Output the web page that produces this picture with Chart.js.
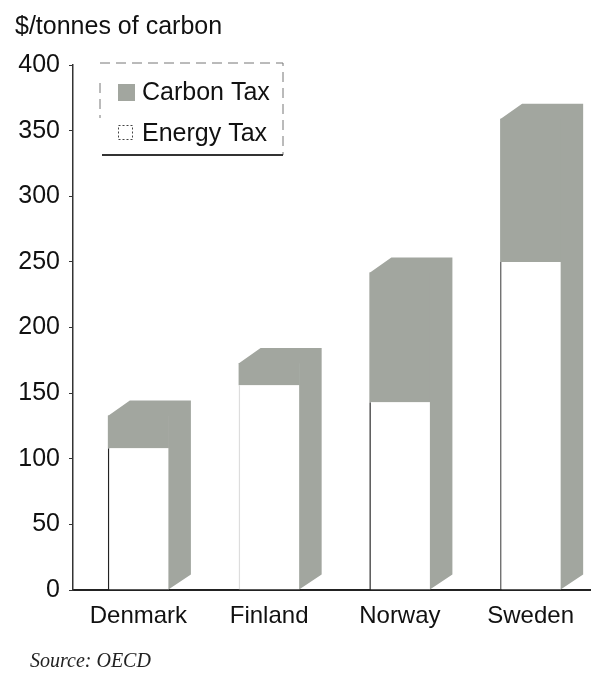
<!DOCTYPE html>
<html>
<head>
<meta charset="utf-8">
<script src="https://cdn.jsdelivr.net/npm/chart.js@4.4.0/dist/chart.umd.min.js"></script>
<style>
  html, body { margin: 0; padding: 0; background: #fff; overflow: hidden; }
  #wrap { width: 600px; height: 683px; }
</style>
</head>
<body>
<div id="wrap"><canvas id="chart_1"></canvas></div>
<script>
const countries = ["Denmark", "Finland", "Norway", "Sweden"];
const energyTax = [108, 156, 143, 250];
const carbonTax = [25, 17, 99, 109];
const yTicks = [0, 50, 100, 150, 200, 250, 300, 350, 400];

const GREY = "#a2a69f";
const SANS = "'Liberation Sans', Arial, sans-serif";

// side + top faces of the pseudo-3D columns, plus the legend box and source line
const extras = {
  id: "extras",
  afterDatasetsDraw(chart) {
    const ctx = chart.ctx;
    const base = chart.getDatasetMeta(0).data;
    const tops = chart.getDatasetMeta(1).data;
    const dx = 22, dy = 15;
    ctx.save();
    ctx.fillStyle = GREY;
    tops.forEach(function (bar, i) {
      const w = bar.width;
      const L = bar.x - w / 2;
      const R = bar.x + w / 2;
      const yT = bar.y;
      const yB = base[i].base;
      ctx.beginPath();
      ctx.moveTo(L, yT + 0.5);
      ctx.lineTo(L + dx, yT - dy);
      ctx.lineTo(R + dx, yT - dy);
      ctx.lineTo(R + dx, yB - dy);
      ctx.lineTo(R - 0.5, yB);
      ctx.lineTo(R - 0.5, yT + 0.5);
      ctx.closePath();
      ctx.fill();
    });
    ctx.restore();
  },
  afterDraw(chart) {
    const ctx = chart.ctx;
    const area = chart.chartArea;
    const lx = area.left + 27;
    const ly = area.top - 2;
    const lw = 183, lh = 92;
    ctx.save();
    // legend frame
    ctx.strokeStyle = "#777";
    ctx.lineWidth = 1;
    ctx.setLineDash([10, 6]);
    ctx.beginPath();
    ctx.moveTo(lx, ly);
    ctx.lineTo(lx + lw, ly);
    ctx.lineTo(lx + lw, ly + lh);
    ctx.moveTo(lx, ly + 20);
    ctx.lineTo(lx, ly + 55);
    ctx.stroke();
    ctx.setLineDash([]);
    ctx.strokeStyle = "#333";
    ctx.lineWidth = 2;
    ctx.beginPath();
    ctx.moveTo(lx + 2, ly + lh);
    ctx.lineTo(lx + lw, ly + lh);
    ctx.stroke();

    const ds = chart.data.datasets;
    ctx.font = "25px " + SANS;
    ctx.textBaseline = "middle";
    // Carbon Tax
    ctx.fillStyle = ds[1].backgroundColor;
    ctx.fillRect(lx + 18, ly + 21, 17, 17);
    ctx.fillStyle = "#111";
    ctx.fillText(ds[1].label, lx + 42, ly + 30);
    // Energy Tax
    ctx.strokeStyle = "#444";
    ctx.lineWidth = 1;
    ctx.setLineDash([2, 2]);
    ctx.strokeRect(lx + 18.5, ly + 62.5, 14, 14);
    ctx.setLineDash([]);
    ctx.fillText(ds[0].label, lx + 42, ly + 71);

    // source note
    ctx.font = "italic 20px 'Liberation Serif', 'Times New Roman', serif";
    ctx.fillStyle = "#222";
    ctx.fillText("Source: OECD", 30, 662);
    ctx.restore();
  },
};

const ctx1 = document.getElementById("chart_1").getContext("2d");
const myChart1 = new Chart(ctx1, {
  type: "bar",
  data: {
    labels: countries,
    datasets: [
      {
        label: "Energy Tax",
        data: energyTax,
        backgroundColor: "#ffffff",
        borderColor: ["#222", "#ddd", "#222", "#555"],
        borderWidth: { left: 1.5, top: 0, right: 0, bottom: 0 },
        borderSkipped: false,
        barPercentage: 0.467,
        categoryPercentage: 1,
      },
      {
        label: "Carbon Tax",
        data: carbonTax,
        backgroundColor: GREY,
        borderWidth: 0,
        barPercentage: 0.467,
        categoryPercentage: 1,
      },
    ],
  },
  options: {
    responsive: true,
    maintainAspectRatio: false,
    animation: false,
    layout: {
      padding: { left: 15, right: 4, top: 12, bottom: 54 },
    },
    plugins: {
      legend: { display: false },
      tooltip: { enabled: false },
      title: {
        display: true,
        text: "$/tonnes of carbon",
        align: "start",
        color: "#111",
        font: { family: SANS, size: 25, weight: "normal" },
        padding: { top: 0, bottom: 23 },
      },
    },
    scales: {
      x: {
        stacked: true,
        grid: { display: false, drawTicks: false },
        border: { display: true, color: "#222", width: 2 },
        ticks: {
          color: "#111",
          padding: 12,
          font: { family: SANS, size: 24 },
        },
        afterFit: function (axis) {
          axis.height = 39;
        },
      },
      y: {
        stacked: true,
        min: 0,
        max: 400,
        afterBuildTicks: function (axis) {
          axis.ticks = yTicks.map(function (v) { return { value: v }; });
        },
        grid: {
          drawOnChartArea: false,
          tickLength: 4,
          color: "#333",
        },
        border: { display: true, color: "#333", width: 1.5 },
        ticks: {
          color: "#111",
          padding: 9,
          font: { family: SANS, size: 25 },
        },
        afterFit: function (axis) {
          axis.width = 58;
        },
      },
    },
  },
  plugins: [extras],
});
</script>
</body>
</html>
